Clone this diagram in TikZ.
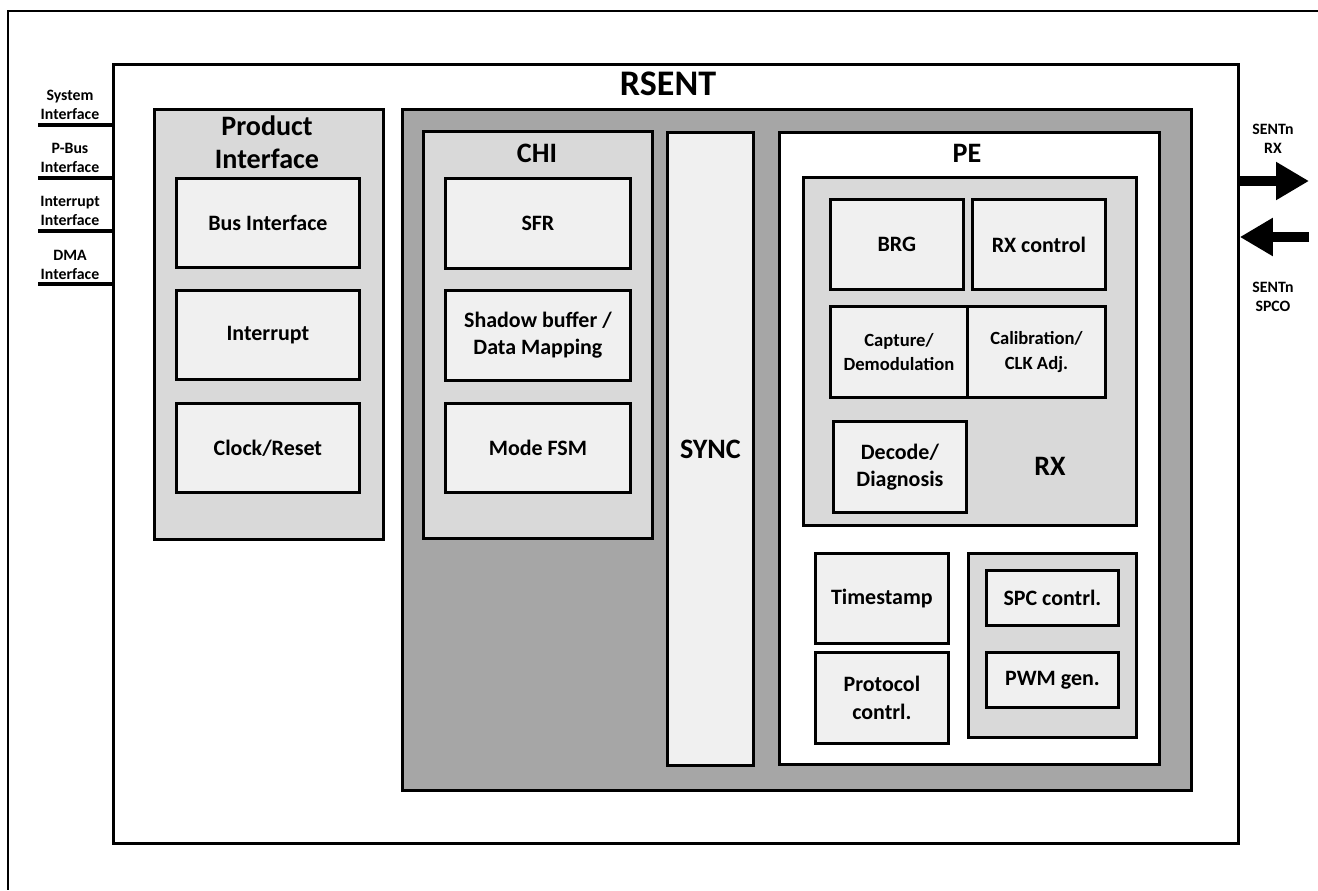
\documentclass[tikz,border=0pt]{standalone}
\usepackage{fontspec}
\setmainfont{Carlito}
\usetikzlibrary{arrows.meta}
\newlength\px
\setlength\px{0.02cm}
\definecolor{coregray}{HTML}{A6A6A6}
\definecolor{groupgray}{HTML}{D9D9D9}
\definecolor{unitgray}{HTML}{F0F0F0}
\tikzset{ %inner sep = 0.5mm,
  {frame/.style 2 args} ={rectangle, draw, line width=1.6pt, anchor=north west,
                inner sep=0, minimum width=#1\px, minimum height=#2\px},
  {group/.style 2 args} ={frame={#1}{#2}, fill=groupgray},
  {unit/.style 2 args} ={frame={#1}{#2}, fill=unitgray, align=center,
                font=\bfseries\fontsize{12.5}{15.5}\selectfont},
  {small unit/.style 2 args} ={unit={#1}{#2}, font=\bfseries\fontsize{10.6}{14}\selectfont},
  {title/.style} ={align=center, inner sep=0, font=\bfseries\fontsize{16}{19}\selectfont},
  {pin label/.style} ={align=center, inner sep=0, font=\bfseries\fontsize{9}{11}\selectfont},
  {pin line/.style} ={draw, line width=1.8pt},
  {sent arrow/.style} ={draw, line width=6.2pt,
                -{Triangle[length=0.66cm, width=0.72cm]}},
 }

\begin{document}
\begin{tikzpicture}[x=1\px, y=-1\px]
    \useasboundingbox (0,0) rectangle (1318,890);
    \draw[line width=1pt] (1318,11) -- (8,11) -- (8,890);
    % RSENT module
    \node[frame={1125}{779}, fill=white] (rsent) at (112,63) {};
    \node[title, font=\bfseries\fontsize{20.5}{24}\selectfont] (rsenttxt) at (668,84) {RSENT};
    % product interface
    \node[group={229}{430}] (prodif) at (153,108) {};
    \node[title] (prodiftxt) at (267,142) {Product\\Interface};
    \node[unit={183}{89}] (busif) at (175,177) {Bus Interface};
    \node[unit={183}{89}] (irq) at (175,289) {Interrupt};
    \node[unit={183}{89}] (clkrst) at (175,402) {Clock/Reset};
    % core
    \node[frame={789}{681}, fill=coregray] (core) at (401,108) {};
    \node[group={229}{407}] (chi) at (422,130) {};
    \node[title] (chitxt) at (537,153) {CHI};
    \node[unit={185}{90}] (sfr) at (444,177) {SFR};
    \node[unit={185}{90}] (shadow) at (444,289) {Shadow buffer /\\Data Mapping};
    \node[unit={185}{89}] (modefsm) at (444,402) {Mode FSM};
    \node[frame={86}{633}, fill=unitgray, title] (sync) at (666,131) {SYNC};
    \node[frame={380}{632}, fill=white] (pe) at (778,131) {};
    \node[title] (petxt) at (967,153) {PE};
    % RX
    \node[group={333}{348}] (rx) at (802,176) {};
    \node[title] (rxtxt) at (1050,466) {RX};
    \node[unit={133}{90}] (brg) at (829,198) {BRG};
    \node[unit={133}{90}] (rxctl) at (971,198) {RX control};
    \node[small unit={137}{91}] (capture) at (829,305) {Capture/\\Demodulation};
    \node[small unit={138}{91}] (calib) at (966,305) {Calibration/\\CLK Adj.};
    \node[unit={133}{91}] (decode) at (832,420) {Decode/\\Diagnosis};
    \node[unit={133}{90}] (tstamp) at (814,552) {Timestamp};
    \node[unit={133}{91}] (proto) at (814,651) {Protocol\\contrl.};
    \node[group={168}{184}] (spcgrp) at (967,552) {};
    \node[unit={132}{55}] (spc) at (985,569) {SPC contrl.};
    \node[unit={132}{55}] (pwm) at (985,651) {PWM gen.};
    % interfaces
    \node[pin label] (sysif) at (70,105) {System\\Interface};
    \node[pin label] (pbusif) at (70,158) {P-Bus\\Interface};
    \node[pin label] (irqif) at (70,211) {Interrupt\\Interface};
    \node[pin label] (dmaif) at (70,265) {DMA\\Interface};
    \coordinate (sysend) at (38,125);
    \coordinate (pbusend) at (38,178);
    \coordinate (irqend) at (38,231);
    \coordinate (dmaend) at (38,284);
    \foreach \p in {sysend, pbusend, irqend, dmaend}
      \draw[pin line] (\p) -- (\p -| rsent.west);
    \node[pin label] (rxpin) at (1273,139) {SENTn\\RX};
    \node[pin label] (spcopin) at (1273,297) {SENTn\\SPCO};
    \coordinate (rxtip) at (1309,181);
    \coordinate (spcoend) at (1309,237);
    \draw[sent arrow] (rxtip -| rsent.east) -- (rxtip);
    \draw[sent arrow] (spcoend) -- (spcoend -| rsent.east);
\end{tikzpicture}
\end{document}
